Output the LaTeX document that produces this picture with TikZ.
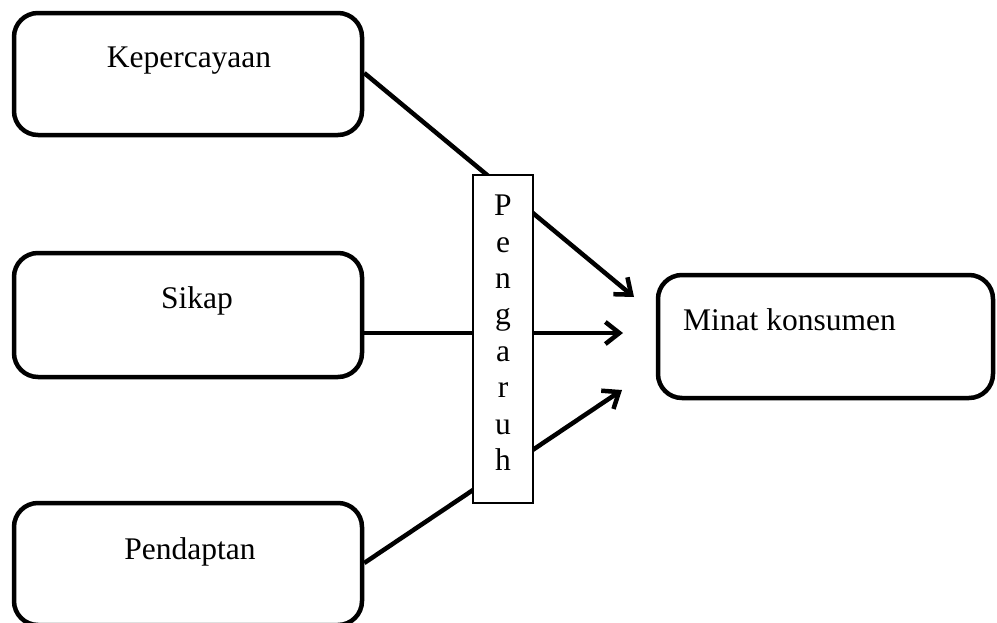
\documentclass[tikz,border=0pt]{standalone}
\usepackage{fontspec}
\setmainfont{Liberation Serif}
\usetikzlibrary{arrows.meta}
\begin{document}
\begin{tikzpicture}[x=1pt,y=-1pt,
  rbox/.style={draw=black, line width=4.5pt, rounded corners=24pt, fill=white, inner sep=0pt},
  lbl/.style={font=\fontsize{31.5}{37}\selectfont, inner sep=0pt},
  conn/.style={line width=4.5pt, -{Straight Barb[length=14pt,width=22pt,line width=4.5pt]}},
  pbox/.style={draw=black, line width=1.3pt, fill=white, minimum width=60pt, minimum height=328pt, inner sep=0pt, align=center, font=\fontsize{31.5}{36.4}\selectfont}
]
\useasboundingbox (0,0) rectangle (997,622);
\clip (0,0) rectangle (997,622);
% boxes
\node[rbox, minimum width=348pt, minimum height=122pt] (k) at (188,74) {};
\node[lbl] (kt) at (189,61) {Kepercayaan};
\node[rbox, minimum width=348pt, minimum height=124pt] (s) at (188,315) {};
\node[lbl] (st) at (197,301) {Sikap};
\node[rbox, minimum width=348pt, minimum height=122pt] (p) at (188,564) {};
\node[lbl] (pt) at (190,552) {Pendaptan};
\node[rbox, minimum width=335pt, minimum height=123pt] (m) at (825.5,336.5) {};
\node[lbl, anchor=west] (mt) at (683,320) {Minat konsumen};
% arrow tips
\coordinate (t1) at (634,297);
\coordinate (t2) at (623,333);
\coordinate (t3) at (622,390);
\draw[conn] ([yshift=1pt]k.east) -- (t1);
\draw[conn] ([yshift=-18pt]s.east) -- (t2);
\draw[conn] ([yshift=1pt]p.east) -- (t3);
% Pengaruh
\node[pbox] (g) at (503,339) {P\\e\\n\\g\\a\\r\\u\\h\\[-24pt]};
\end{tikzpicture}
\end{document}
